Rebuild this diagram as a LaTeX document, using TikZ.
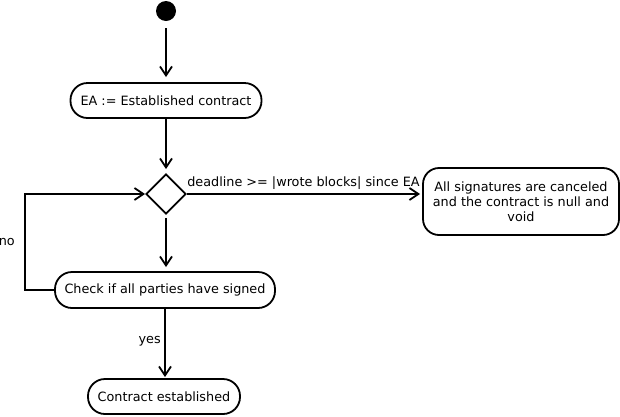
\documentclass[tikz,border=0pt]{standalone}
\usepackage{fontspec}
\setmainfont{DejaVu Sans}
\usetikzlibrary{shapes.geometric,arrows.meta}
\begin{document}
\begin{tikzpicture}[x=1pt,y=-1pt,
  every node/.style={font=\fontsize{12.8}{15}\selectfont},
  act/.style={draw,line width=1.8pt,rounded corners=17pt,minimum height=35pt,inner sep=0pt,anchor=center},
  conn/.style={line width=1.8pt,-{Straight Barb[length=9pt,width=12pt,line width=1.8pt]}}]
\useasboundingbox (0,0) rectangle (620,416);
\node[circle,fill=black,minimum size=20pt,inner sep=0pt] (start) at (166,11) {};
\node[act,minimum width=191pt] (ea) at (166,100.5) {EA := Established contract};
\node[diamond,draw,line width=1.8pt,minimum width=40pt,minimum height=40pt,inner sep=0pt] (dec) at (166,194) {};
\node[act,minimum width=196pt,minimum height=67pt,rounded corners=16pt,align=center] (cancel) at (521,201.5) {All signatures are canceled\\and the contract is null and\\void};
\node[act,minimum width=220pt,minimum height=36pt] (check) at (165,290) {Check if all parties have signed};
\node[act,minimum width=152pt] (done) at (164,396.5) {Contract established};
\coordinate (s1) at (166,28);
\coordinate (c1) at (25,290);
\coordinate (c2) at (25,194);
\draw[conn] (s1) -- ([yshift=5pt]ea.north);
\draw[conn] (ea.south) -- ([yshift=4pt]dec.north);
\draw[conn] (dec.east) -- node[above,pos=0.5,yshift=0.5pt] (lbl) {deadline >= |wrote blocks| since EA} ([xshift=-2pt]cancel.west|-dec.east);
\draw[conn] ([yshift=-3pt]dec.south) -- ([yshift=4pt]dec.south|-check.north);
\draw[conn] (check.west) -- (c1) -- node[left,pos=0.5,xshift=-6pt] (no) {no} (c2) -- (dec.west);
\draw[conn] (check.south) -- node[left,pos=0.48] (yes) {yes} ([yshift=1pt]check.south|-done.north);
\end{tikzpicture}
\end{document}
